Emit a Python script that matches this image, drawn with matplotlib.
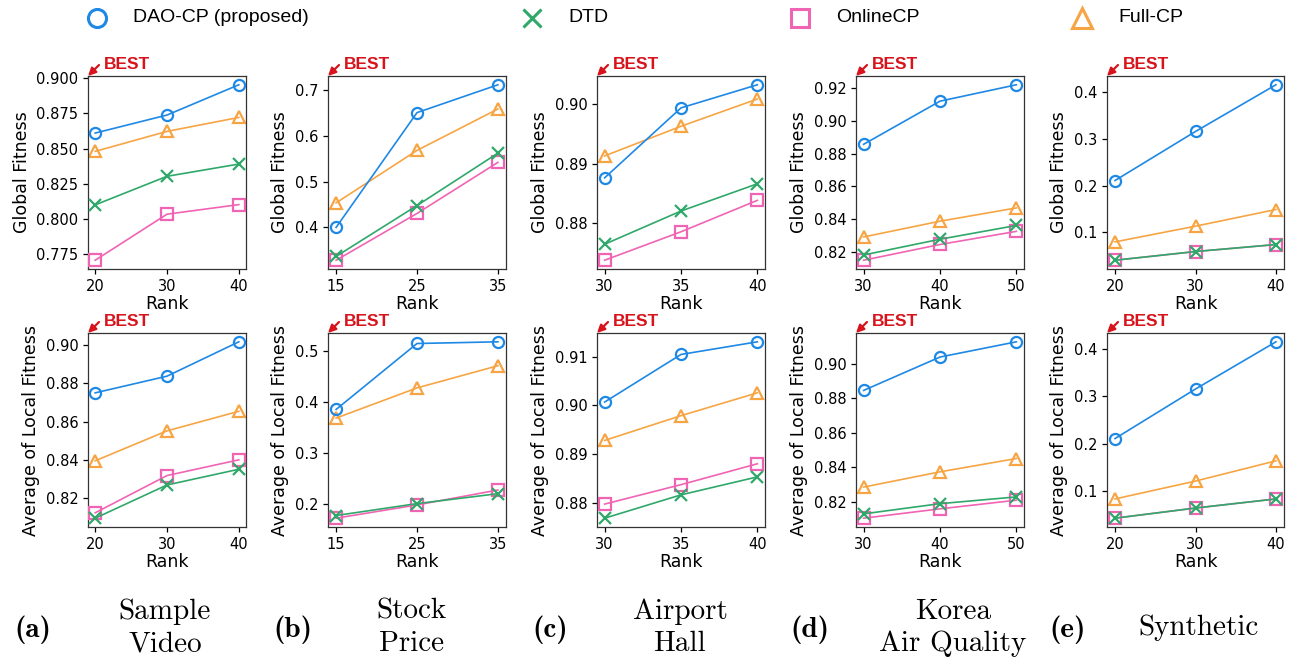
import matplotlib
matplotlib.use("Agg")
import matplotlib.pyplot as plt
from matplotlib.lines import Line2D

# ---------------- data ----------------
datasets = ["Sample\nVideo", "Stock\nPrice", "Airport\nHall", "Korea\nAir Quality", "Synthetic"]
panel_tags = ["(a)", "(b)", "(c)", "(d)", "(e)"]
methods = ["DAO-CP (proposed)", "DTD", "OnlineCP", "Full-CP"]

ranks_video = [20, 30, 40]
ranks_stock = [15, 25, 35]
ranks_airport = [30, 35, 40]
ranks_korea = [30, 40, 50]
ranks_synth = [20, 30, 40]

# Global fitness
glob_video_dao = [0.861, 0.8738, 0.8953]
glob_video_dtd = [0.810, 0.8303, 0.839]
glob_video_online = [0.7707, 0.8034, 0.8102]
glob_video_full = [0.848, 0.8622, 0.8721]

glob_stock_dao = [0.400, 0.6513, 0.7123]
glob_stock_dtd = [0.3365, 0.4479, 0.5627]
glob_stock_online = [0.3282, 0.4306, 0.5424]
glob_stock_full = [0.4538, 0.5686, 0.6593]

glob_airport_dao = [0.8876, 0.8994, 0.9033]
glob_airport_dtd = [0.8764, 0.882, 0.8866]
glob_airport_online = [0.8737, 0.8785, 0.8838]
glob_airport_full = [0.8913, 0.8963, 0.9009]

glob_korea_dao = [0.8857, 0.912, 0.922]
glob_korea_dtd = [0.8182, 0.8278, 0.8362]
glob_korea_online = [0.815, 0.8246, 0.8326]
glob_korea_full = [0.8292, 0.8388, 0.8469]

glob_synth_dao = [0.2107, 0.3157, 0.4157]
glob_synth_dtd = [0.040, 0.0586, 0.0736]
glob_synth_online = [0.040, 0.0586, 0.0736]
glob_synth_full = [0.0793, 0.1129, 0.1486]

# Average of local fitness
loc_video_dao = [0.875, 0.8837, 0.9016]
loc_video_dtd = [0.8097, 0.827, 0.8352]
loc_video_online = [0.8125, 0.8319, 0.8401]
loc_video_full = [0.8396, 0.8552, 0.8654]

loc_stock_dao = [0.3848, 0.5143, 0.5176]
loc_stock_dtd = [0.1766, 0.200, 0.2195]
loc_stock_online = [0.1714, 0.1974, 0.2267]
loc_stock_full = [0.3679, 0.4271, 0.4707]

loc_airport_dao = [0.9007, 0.9105, 0.9131]
loc_airport_dtd = [0.8768, 0.8816, 0.8853]
loc_airport_online = [0.8797, 0.8837, 0.888]
loc_airport_full = [0.8928, 0.8979, 0.9026]

loc_korea_dao = [0.8845, 0.9038, 0.9126]
loc_korea_dtd = [0.8131, 0.819, 0.8229]
loc_korea_online = [0.8106, 0.816, 0.821]
loc_korea_full = [0.8286, 0.8374, 0.8451]

loc_synth_dao = [0.211, 0.3154, 0.4149]
loc_synth_dtd = [0.0431, 0.0645, 0.0837]
loc_synth_online = [0.0431, 0.0645, 0.0837]
loc_synth_full = [0.0837, 0.1213, 0.164]

ranks_all = [ranks_video, ranks_stock, ranks_airport, ranks_korea, ranks_synth]
glob_all = [
    [glob_video_dao, glob_video_dtd, glob_video_online, glob_video_full],
    [glob_stock_dao, glob_stock_dtd, glob_stock_online, glob_stock_full],
    [glob_airport_dao, glob_airport_dtd, glob_airport_online, glob_airport_full],
    [glob_korea_dao, glob_korea_dtd, glob_korea_online, glob_korea_full],
    [glob_synth_dao, glob_synth_dtd, glob_synth_online, glob_synth_full],
]
loc_all = [
    [loc_video_dao, loc_video_dtd, loc_video_online, loc_video_full],
    [loc_stock_dao, loc_stock_dtd, loc_stock_online, loc_stock_full],
    [loc_airport_dao, loc_airport_dtd, loc_airport_online, loc_airport_full],
    [loc_korea_dao, loc_korea_dtd, loc_korea_online, loc_korea_full],
    [loc_synth_dao, loc_synth_dtd, loc_synth_online, loc_synth_full],
]

# ---------------- style ----------------
colors = ["#1E88E5", "#2FA86A", "#F064B4", "#F7A544"]
markers = ["o", "x", "s", "^"]
zorders = [5, 4, 3, 2]
RED = "#D7141C"

W, H = 1298, 664
fig = plt.figure(figsize=(W / 100, H / 100), dpi=100)

lefts = [88, 328, 597, 856, 1107]
rights = [246, 506, 765, 1024, 1284]
rows = [(76, 269), (333, 527)]
ylabels = ["Global Fitness", "Average of Local Fitness"]


def add_best(ax):
    ax.annotate("", xy=(0, 1), xycoords="axes fraction",
                xytext=(11, 11), textcoords="offset pixels",
                arrowprops=dict(arrowstyle="-|>,head_length=0.45,head_width=0.22",
                                color=RED, lw=1.6, shrinkA=0, shrinkB=0),
                annotation_clip=False)
    ax.annotate("BEST", xy=(0, 1), xycoords="axes fraction",
                xytext=(16, 11), textcoords="offset pixels",
                ha="left", va="center", color=RED, fontsize=12.5,
                fontweight="bold", family="Liberation Sans",
                annotation_clip=False)


for r, (top, bot) in enumerate(rows):
    data_all = glob_all if r == 0 else loc_all
    for c in range(5):
        ax = fig.add_axes([lefts[c] / W, 1 - bot / H,
                           (rights[c] - lefts[c]) / W, (bot - top) / H])
        x = ranks_all[c]
        for k in range(4):
            ax.plot(x, data_all[c][k], color=colors[k], marker=markers[k],
                    markersize=8 if markers[k] != "^" else 9,
                    markerfacecolor="none", markeredgewidth=1.6,
                    lw=1.2, zorder=zorders[k])
        ax.set_xticks(x)
        ax.tick_params(labelsize=10.5, length=3.5, width=0.9)
        ax.set_xlabel("Rank", fontsize=12.5, labelpad=1)
        ax.set_ylabel(ylabels[r], fontsize=12.5, labelpad=4)
        for s in ax.spines.values():
            s.set_linewidth(0.9)
            s.set_color("#333333")
        add_best(ax)

fig.axes[0].set_yticks([0.775, 0.800, 0.825, 0.850, 0.875, 0.900])
fig.axes[0].set_yticklabels(["0.775", "0.800", "0.825", "0.850", "0.875", "0.900"])

# ---------------- legend (top) ----------------
leg_x_marker = [97, 532, 800, 1082]
leg_y = 18
for k in range(4):
    xm = leg_x_marker[k]
    fig.add_artist(Line2D([xm / W], [1 - leg_y / H], transform=fig.transFigure,
                          marker=markers[k], markersize=13 if markers[k] != "^" else 14,
                          markerfacecolor="none", markeredgecolor=colors[k],
                          markeredgewidth=2.2, linestyle="none"))
    fig.text((xm + 36) / W, 1 - leg_y / H, methods[k], fontsize=14,
             family="Liberation Sans", ha="left", va="center")

# ---------------- captions (bottom) ----------------
tag_x = [33, 293, 550, 810, 1068]
name_x = [165, 412, 680, 953, 1198]
for c in range(5):
    fig.text(tag_x[c] / W, 1 - 630 / H, panel_tags[c], fontsize=21,
             family="cmb10", ha="center", va="center")
    fig.text(name_x[c] / W, 1 - 628 / H, datasets[c], fontsize=21,
             family="cmr10", ha="center", va="center", linespacing=1.3)

fig.savefig("out.png", dpi=100)
